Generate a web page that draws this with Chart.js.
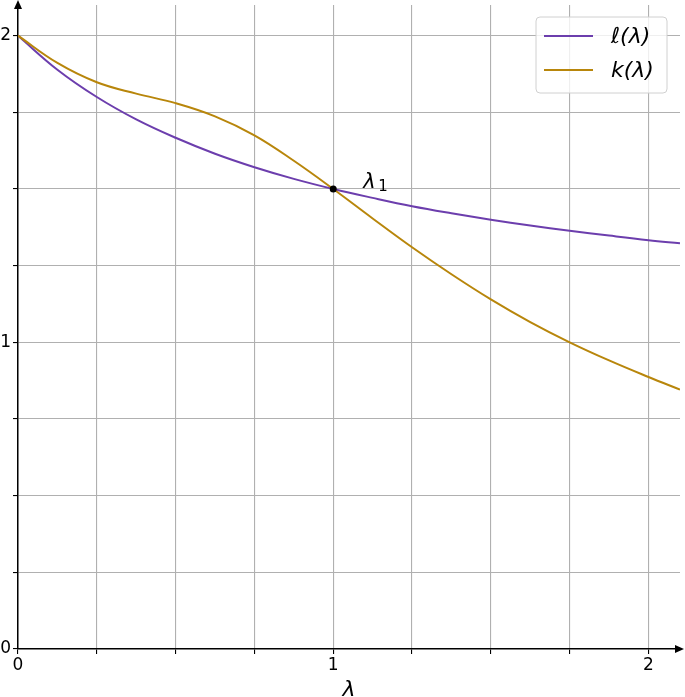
<!DOCTYPE html>
<html>
<head>
<meta charset="utf-8">
<script src="https://cdn.jsdelivr.net/npm/chart.js@4/dist/chart.umd.min.js"></script>
<style>
    html, body { margin: 0; padding: 0; background: #fff; }
    #wrap { width: 685px; height: 697px; }
</style>
</head>
<body>
<div id="wrap"><canvas id="lambdaChart" width="685" height="697"></canvas></div>
<script>
// sample points on the lambda axis
const lambdas = [0, 0.125, 0.25, 0.375, 0.5, 0.625, 0.75, 0.875, 1, 1.125, 1.25, 1.375, 1.5, 1.625, 1.75, 1.875, 2, 2.1];
// l(lambda), purple curve
const ellValues = [2, 1.889, 1.8, 1.727, 1.667, 1.615, 1.571, 1.533, 1.5, 1.471, 1.444, 1.421, 1.4, 1.381, 1.364, 1.348, 1.333, 1.323];
// k(lambda), gold curve
const kValues = [2, 1.911, 1.848, 1.811, 1.78, 1.737, 1.675, 1.592, 1.5, 1.404, 1.31, 1.222, 1.14, 1.066, 1.0, 0.941, 0.887, 0.846];
// marked crossing point lambda_1
const crossX = [1];
const crossY = [1.5];
const tickLabels = ['0', '1', '2'];

const purple = '#6c3ead';
const gold = '#b8860b';
const mathFont = '"DejaVu Sans", sans-serif';

const toPoints = (xs, ys) => xs.map((x, i) => ({ x: x, y: ys[i] }));

// axis arrows, the in-plot legend and the lambda_1 label
const decorations = {
    id: 'decorations',
    afterDraw(chart) {
        const { ctx, chartArea: area, scales } = chart;
        ctx.save();

        // arrow heads
        ctx.fillStyle = '#000';
        ctx.beginPath();
        ctx.moveTo(area.left, area.top - 5);
        ctx.lineTo(area.left - 4, area.top + 4);
        ctx.lineTo(area.left + 4, area.top + 4);
        ctx.closePath();
        ctx.fill();
        ctx.beginPath();
        ctx.moveTo(area.right + 4, area.bottom);
        ctx.lineTo(area.right - 5, area.bottom - 4);
        ctx.lineTo(area.right - 5, area.bottom + 4);
        ctx.closePath();
        ctx.fill();

        // lambda_1 label next to the dot
        const px = scales.x.getPixelForValue(crossX[0]);
        const py = scales.y.getPixelForValue(crossY[0]);
        ctx.fillStyle = '#000';
        ctx.textBaseline = 'alphabetic';
        ctx.textAlign = 'left';
        ctx.font = 'italic 21px ' + mathFont;
        ctx.fillText('λ', px + 30, py - 1);
        ctx.font = '15px ' + mathFont;
        ctx.fillText('1', px + 45, py + 2);

        // legend box
        const boxW = 131, boxH = 76;
        const bx = area.right - 13 - boxW;
        const by = area.top + 12;
        ctx.beginPath();
        ctx.roundRect(bx, by, boxW, boxH, 4);
        ctx.fillStyle = 'rgba(255,255,255,0.8)';
        ctx.fill();
        ctx.strokeStyle = '#d0d0d0';
        ctx.lineWidth = 1;
        ctx.stroke();

        const entries = chart.data.datasets.filter(d => d.label);
        entries.forEach((d, i) => {
            const ly = by + 19 + i * 34;
            ctx.strokeStyle = d.borderColor;
            ctx.lineWidth = 2;
            ctx.beginPath();
            ctx.moveTo(bx + 8, ly);
            ctx.lineTo(bx + 57, ly);
            ctx.stroke();
            ctx.fillStyle = '#000';
            ctx.font = 'italic 22px ' + mathFont;
            ctx.textBaseline = 'middle';
            ctx.fillText(d.label, bx + 75, ly + 1);
        });
        ctx.restore();
    }
};

const config = {
    type: 'line',
    data: {
        datasets: [
            {
                label: 'ℓ(λ)',
                data: toPoints(lambdas, ellValues),
                borderColor: purple,
                borderWidth: 2,
                pointRadius: 0,
                tension: 0.4,
                order: 2,
            },
            {
                label: 'k(λ)',
                data: toPoints(lambdas, kValues),
                borderColor: gold,
                borderWidth: 2,
                pointRadius: 0,
                tension: 0.4,
                order: 1,
            },
            {
                data: toPoints(crossX, crossY),
                showLine: false,
                pointRadius: 3.5,
                pointBackgroundColor: '#000',
                pointBorderWidth: 0,
                order: 0,
            },
        ],
    },
    options: {
        responsive: false,
        animation: false,
        layout: { padding: { top: 5, right: 5, left: 0, bottom: 0 } },
        plugins: {
            legend: { display: false },
            tooltip: { enabled: false },
        },
        scales: {
            x: {
                type: 'linear',
                min: 0,
                max: 2.1,
                afterFit(scale) {
                    scale.height = 48;
                    scale.paddingLeft = 0;
                    scale.paddingRight = 0;
                },
                grid: {
                    color: '#b0b0b0',
                    lineWidth: 1.1,
                    tickColor: '#000',
                    tickLength: 5,
                },
                border: { color: '#000', width: 1.5 },
                ticks: {
                    stepSize: 0.25,
                    includeBounds: false,
                    maxRotation: 0,
                    autoSkip: false,
                    padding: 1,
                    color: '#000',
                    font: { family: mathFont, size: 17 },
                    callback: v => (Number.isInteger(v) ? tickLabels[v] : ''),
                },
                title: {
                    display: true,
                    text: 'λ',
                    color: '#000',
                    font: { family: mathFont, size: 22, style: 'italic' },
                    padding: { top: 0, bottom: -6 },
                },
            },
            y: {
                type: 'linear',
                min: 0,
                max: 2.1,
                afterFit(scale) {
                    scale.width = 18;
                    scale.paddingTop = 0;
                    scale.paddingBottom = 0;
                },
                grid: {
                    color: '#b0b0b0',
                    lineWidth: 1.1,
                    tickColor: '#000',
                    tickLength: 5,
                },
                border: { color: '#000', width: 1.5 },
                ticks: {
                    stepSize: 0.25,
                    includeBounds: false,
                    autoSkip: false,
                    padding: 2,
                    color: '#000',
                    font: { family: mathFont, size: 17 },
                    callback: v => (Number.isInteger(v) ? tickLabels[v] : ''),
                },
            },
        },
    },
    plugins: [decorations],
};

const ctx = document.getElementById('lambdaChart').getContext('2d');
new Chart(ctx, config);
</script>
</body>
</html>
